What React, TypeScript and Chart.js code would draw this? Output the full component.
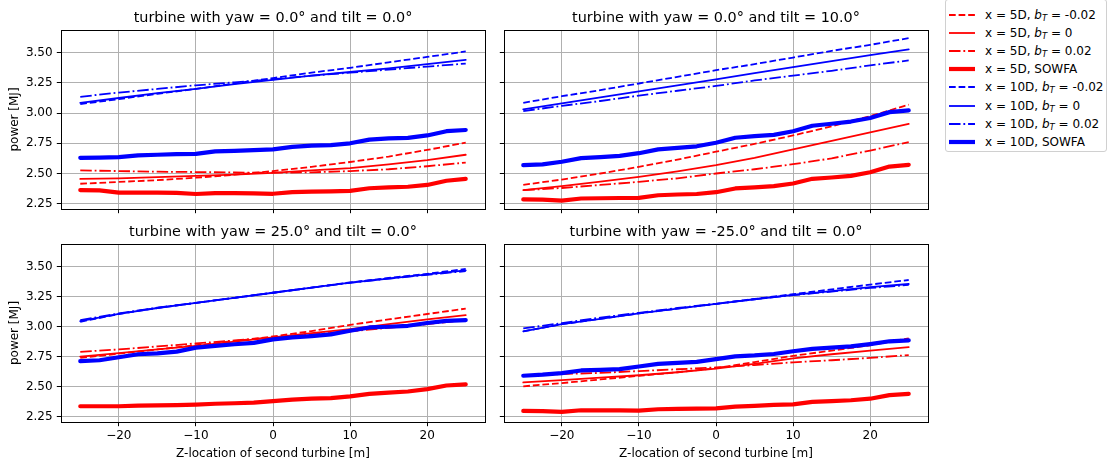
import React, { useEffect, useRef } from 'react';
import { Chart, registerables } from 'chart.js';

Chart.register(...registerables);

// Z-location of the second turbine [m]
const zModel = [-25, -20, -15, -10, -5, 0, 5, 10, 15, 20, 25];
const zSowfa = [-25, -22.5, -20, -17.5, -15, -12.5, -10, -7.5, -5, -2.5, 0, 2.5, 5, 7.5, 10, 12.5, 15, 17.5, 20, 22.5, 25];

const xTicks = [-20, -10, 0, 10, 20];
const yTicks = [2.25, 2.5, 2.75, 3.0, 3.25, 3.5];

// yaw = 0.0°, tilt = 0.0°
const p1_5d_neg = [2.415, 2.43, 2.445, 2.465, 2.49, 2.52, 2.555, 2.595, 2.64, 2.695, 2.755];
const p1_5d_zero = [2.455, 2.46, 2.47, 2.48, 2.49, 2.505, 2.525, 2.545, 2.575, 2.61, 2.655];
const p1_5d_pos = [2.525, 2.52, 2.515, 2.512, 2.508, 2.507, 2.51, 2.52, 2.535, 2.56, 2.59];
const p1_5d_sowfa = [2.363, 2.36, 2.342, 2.342, 2.342, 2.34, 2.33, 2.337, 2.337, 2.335, 2.332, 2.345, 2.35, 2.352, 2.356, 2.378, 2.385, 2.39, 2.405, 2.44, 2.455];
const p1_10d_neg = [3.075, 3.115, 3.16, 3.2, 3.245, 3.29, 3.335, 3.375, 3.42, 3.465, 3.51];
const p1_10d_zero = [3.085, 3.125, 3.165, 3.2, 3.24, 3.275, 3.31, 3.34, 3.37, 3.405, 3.44];
const p1_10d_pos = [3.135, 3.17, 3.2, 3.23, 3.255, 3.28, 3.31, 3.335, 3.36, 3.385, 3.41];
const p1_10d_sowfa = [2.63, 2.632, 2.635, 2.65, 2.655, 2.66, 2.663, 2.683, 2.688, 2.693, 2.7, 2.72, 2.73, 2.735, 2.75, 2.78, 2.79, 2.795, 2.815, 2.85, 2.86];

// yaw = 0.0°, tilt = 10.0°
const p2_5d_neg = [2.406, 2.45, 2.5, 2.555, 2.615, 2.68, 2.745, 2.815, 2.89, 2.975, 3.07];
const p2_5d_zero = [2.362, 2.395, 2.432, 2.472, 2.518, 2.569, 2.63, 2.7, 2.77, 2.84, 2.91];
const p2_5d_pos = [2.362, 2.38, 2.405, 2.431, 2.46, 2.5, 2.535, 2.577, 2.625, 2.69, 2.76];
const p2_5d_sowfa = [2.285, 2.283, 2.276, 2.293, 2.295, 2.297, 2.298, 2.32, 2.326, 2.33, 2.345, 2.376, 2.385, 2.395, 2.417, 2.456, 2.467, 2.48, 2.51, 2.557, 2.572];
const p2_10d_neg = [3.085, 3.14, 3.19, 3.245, 3.3, 3.355, 3.405, 3.46, 3.515, 3.565, 3.62];
const p2_10d_zero = [3.03, 3.08, 3.13, 3.18, 3.23, 3.28, 3.33, 3.38, 3.43, 3.48, 3.528];
const p2_10d_pos = [3.017, 3.06, 3.1, 3.145, 3.185, 3.225, 3.27, 3.31, 3.35, 3.395, 3.436];
const p2_10d_sowfa = [2.569, 2.575, 2.597, 2.627, 2.635, 2.646, 2.668, 2.7, 2.712, 2.725, 2.754, 2.796, 2.81, 2.82, 2.85, 2.895, 2.912, 2.93, 2.959, 3.008, 3.022];

// yaw = 25.0°, tilt = 0.0°
const p3_5d_neg = [2.74, 2.775, 2.81, 2.845, 2.88, 2.918, 2.963, 3.015, 3.06, 3.105, 3.15];
const p3_5d_zero = [2.75, 2.78, 2.81, 2.84, 2.875, 2.91, 2.945, 2.98, 3.02, 3.06, 3.095];
const p3_5d_pos = [2.79, 2.81, 2.835, 2.86, 2.885, 2.91, 2.935, 2.96, 2.99, 3.02, 3.055];
const p3_5d_sowfa = [2.337, 2.337, 2.337, 2.343, 2.345, 2.347, 2.351, 2.358, 2.362, 2.368, 2.379, 2.393, 2.4, 2.405, 2.42, 2.44, 2.45, 2.46, 2.48, 2.51, 2.52];
const p3_10d_neg = [3.04, 3.105, 3.155, 3.197, 3.24, 3.282, 3.325, 3.368, 3.405, 3.44, 3.48];
const p3_10d_zero = [3.045, 3.107, 3.155, 3.197, 3.24, 3.282, 3.325, 3.366, 3.4, 3.435, 3.468];
const p3_10d_pos = [3.055, 3.11, 3.158, 3.198, 3.24, 3.282, 3.324, 3.365, 3.4, 3.432, 3.462];
const p3_10d_sowfa = [2.712, 2.72, 2.745, 2.77, 2.778, 2.792, 2.825, 2.84, 2.853, 2.865, 2.894, 2.91, 2.921, 2.935, 2.966, 2.993, 2.999, 3.007, 3.03, 3.048, 3.054];

// yaw = -25.0°, tilt = 0.0°
const p4_5d_neg = [2.503, 2.53, 2.56, 2.59, 2.62, 2.655, 2.705, 2.757, 2.8, 2.845, 2.903];
const p4_5d_zero = [2.536, 2.555, 2.575, 2.595, 2.62, 2.65, 2.69, 2.736, 2.77, 2.8, 2.83];
const p4_5d_pos = [2.595, 2.605, 2.615, 2.63, 2.645, 2.66, 2.68, 2.703, 2.72, 2.74, 2.763];
const p4_5d_sowfa = [2.298, 2.296, 2.29, 2.304, 2.303, 2.302, 2.301, 2.312, 2.315, 2.318, 2.32, 2.334, 2.34, 2.348, 2.353, 2.373, 2.38, 2.387, 2.4, 2.43, 2.44];
const p4_10d_neg = [2.96, 3.02, 3.065, 3.11, 3.15, 3.19, 3.23, 3.27, 3.31, 3.35, 3.388];
const p4_10d_zero = [2.96, 3.02, 3.065, 3.11, 3.15, 3.19, 3.228, 3.265, 3.295, 3.328, 3.355];
const p4_10d_pos = [2.985, 3.03, 3.075, 3.115, 3.155, 3.19, 3.228, 3.262, 3.292, 3.322, 3.347];
const p4_10d_sowfa = [2.591, 2.6, 2.613, 2.635, 2.64, 2.646, 2.668, 2.69, 2.698, 2.707, 2.73, 2.752, 2.76, 2.772, 2.795, 2.815, 2.825, 2.835, 2.855, 2.878, 2.885];

const FONT = "'DejaVu Sans', 'Liberation Sans', sans-serif";
const RED = '#ff0000';
const BLUE = '#0000ff';
const DASHED = [6.7, 2.9];
const DASHDOT = [11.5, 2.9, 1.8, 2.9];
const THIN = 1.8;
const THICK = 4.2;

type SeriesStyle = { label: string; color: string; dash: number[]; width: number; sowfa: boolean };

const seriesStyles: SeriesStyle[] = [
  { label: 'x = 5D, b_T = -0.02', color: RED, dash: DASHED, width: THIN, sowfa: false },
  { label: 'x = 5D, b_T = 0', color: RED, dash: [], width: THIN, sowfa: false },
  { label: 'x = 5D, b_T = 0.02', color: RED, dash: DASHDOT, width: THIN, sowfa: false },
  { label: 'x = 5D, SOWFA', color: RED, dash: [], width: THICK, sowfa: true },
  { label: 'x = 10D, b_T = -0.02', color: BLUE, dash: DASHED, width: THIN, sowfa: false },
  { label: 'x = 10D, b_T = 0', color: BLUE, dash: [], width: THIN, sowfa: false },
  { label: 'x = 10D, b_T = 0.02', color: BLUE, dash: DASHDOT, width: THIN, sowfa: false },
  { label: 'x = 10D, SOWFA', color: BLUE, dash: [], width: THICK, sowfa: true },
];

type Panel = {
  title: string;
  series: number[][];
  left: number;
  top: number;
  width: number;
  height: number;
  yAxisWidth: number;
  xAxisHeight: number;
  padRight: number;
  titlePad: { top: number; bottom: number };
  showY: boolean;
  showX: boolean;
};

const panels: Panel[] = [
  {
    title: 'turbine with yaw = 0.0° and tilt = 0.0°',
    series: [p1_5d_neg, p1_5d_zero, p1_5d_pos, p1_5d_sowfa, p1_10d_neg, p1_10d_zero, p1_10d_pos, p1_10d_sowfa],
    left: 0, top: 0, width: 490, height: 222,
    yAxisWidth: 61, xAxisHeight: 13, padRight: 5,
    titlePad: { top: 9.2, bottom: 3.5 }, showY: true, showX: false,
  },
  {
    title: 'turbine with yaw = 0.0° and tilt = 10.0°',
    series: [p2_5d_neg, p2_5d_zero, p2_5d_pos, p2_5d_sowfa, p2_10d_neg, p2_10d_zero, p2_10d_pos, p2_10d_sowfa],
    left: 490, top: 0, width: 443, height: 222,
    yAxisWidth: 14, xAxisHeight: 13, padRight: 5,
    titlePad: { top: 9.2, bottom: 3.5 }, showY: false, showX: false,
  },
  {
    title: 'turbine with yaw = 25.0° and tilt = 0.0°',
    series: [p3_5d_neg, p3_5d_zero, p3_5d_pos, p3_5d_sowfa, p3_10d_neg, p3_10d_zero, p3_10d_pos, p3_10d_sowfa],
    left: 0, top: 222, width: 490, height: 241,
    yAxisWidth: 61, xAxisHeight: 41, padRight: 5,
    titlePad: { top: 2.1, bottom: 2.6 }, showY: true, showX: true,
  },
  {
    title: 'turbine with yaw = -25.0° and tilt = 0.0°',
    series: [p4_5d_neg, p4_5d_zero, p4_5d_pos, p4_5d_sowfa, p4_10d_neg, p4_10d_zero, p4_10d_pos, p4_10d_sowfa],
    left: 490, top: 222, width: 443, height: 241,
    yAxisWidth: 14, xAxisHeight: 41, padRight: 5,
    titlePad: { top: 2.1, bottom: 2.6 }, showY: false, showX: true,
  },
];

const fmtX = (v: number) => (v < 0 ? '\u2212' + Math.abs(v) : String(v));

// Axes frame (all four spines) drawn on top of the data
const framePlugin = {
  id: 'axesFrame',
  afterDatasetsDraw(chart: any) {
    const { ctx, chartArea } = chart;
    ctx.save();
    ctx.strokeStyle = '#000';
    ctx.lineWidth = 1;
    ctx.strokeRect(
      Math.round(chartArea.left) + 0.5,
      Math.round(chartArea.top) + 0.5,
      Math.round(chartArea.right) - Math.round(chartArea.left),
      Math.round(chartArea.bottom) - Math.round(chartArea.top)
    );
    ctx.restore();
  },
};

function PanelChart({ panel }: { panel: Panel }) {
  const ref = useRef<HTMLCanvasElement | null>(null);

  useEffect(() => {
    if (!ref.current) return;
    const datasets = seriesStyles.map((s, i) => {
      const xs = s.sowfa ? zSowfa : zModel;
      return {
        label: s.label,
        data: panel.series[i].map((y, k) => ({ x: xs[k], y })),
        borderColor: s.color,
        backgroundColor: s.color,
        borderWidth: s.width,
        borderDash: s.dash,
        borderCapStyle: s.dash.length ? 'butt' : 'round',
        borderJoinStyle: 'round',
        pointRadius: 0,
        tension: 0,
        fill: false,
        order: seriesStyles.length - i,
      };
    });

    const tickFont = { family: FONT, size: 12 };
    const chart = new Chart(ref.current, {
      type: 'line',
      data: { datasets: datasets as any },
      plugins: [framePlugin],
      options: {
        responsive: false,
        animation: false,
        events: [],
        layout: { padding: { left: 0, right: panel.padRight, top: 0, bottom: 0 } },
        plugins: {
          legend: { display: false },
          tooltip: { enabled: false },
          title: {
            display: true,
            text: panel.title,
            fullSize: false,
            color: '#000',
            font: { family: FONT, size: 14.4, weight: 'normal' as any },
            padding: panel.titlePad,
          },
        },
        scales: {
          x: {
            type: 'linear',
            min: -27.5,
            max: 27.5,
            afterBuildTicks: (s: any) => {
              s.ticks = xTicks.map((v) => ({ value: v }));
            },
            afterFit: (s: any) => {
              s.height = panel.xAxisHeight;
            },
            border: { display: false },
            grid: {
              color: '#b0b0b0',
              lineWidth: 1,
              drawTicks: true,
              tickLength: 4.2,
              tickColor: '#000',
              tickWidth: 1,
            },
            ticks: {
              display: panel.showX,
              color: '#000',
              font: tickFont,
              padding: 2.6,
              maxRotation: 0,
              autoSkip: false,
              callback: (v: any) => fmtX(Number(v)),
            },
            title: {
              display: panel.showX,
              text: 'Z-location of second turbine [m]',
              color: '#000',
              font: tickFont,
              padding: { top: 0, bottom: 2.3 },
            },
          },
          y: {
            type: 'linear',
            min: 2.206,
            max: 3.688,
            afterBuildTicks: (s: any) => {
              s.ticks = yTicks.map((v) => ({ value: v }));
            },
            afterFit: (s: any) => {
              s.width = panel.yAxisWidth;
            },
            border: { display: false },
            grid: {
              color: '#b0b0b0',
              lineWidth: 1,
              drawTicks: true,
              tickLength: 4.2,
              tickColor: '#000',
              tickWidth: 1,
            },
            ticks: {
              display: panel.showY,
              color: '#000',
              font: tickFont,
              padding: 4.2,
              autoSkip: false,
              callback: (v: any) => Number(v).toFixed(2),
            },
            title: {
              display: panel.showY,
              text: 'power [MJ]',
              color: '#000',
              font: tickFont,
              padding: { top: 7.8, bottom: 0 },
            },
          },
        },
      } as any,
    });
    return () => chart.destroy();
  }, [panel]);

  return (
    <canvas
      ref={ref}
      width={panel.width}
      height={panel.height}
      style={{ position: 'absolute', left: panel.left, top: panel.top, width: panel.width, height: panel.height }}
    />
  );
}

function LegendLabel({ label }: { label: string }) {
  const idx = label.indexOf('b_T');
  if (idx < 0) return <span>{label}</span>;
  return (
    <span>
      {label.slice(0, idx)}
      <i>b</i>
      <sub style={{ fontSize: '8.5px', verticalAlign: '-2px' }}>
        <i>T</i>
      </sub>
      {label.slice(idx + 3)}
    </span>
  );
}

function Legend() {
  const rowStep = 18.1;
  const firstRow = 14;
  return (
    <div
      style={{
        position: 'absolute',
        left: 945,
        top: -1,
        width: 162,
        height: 153,
        border: '1px solid #d0d0d0',
        borderRadius: 3,
        background: 'rgba(255,255,255,0.8)',
        boxSizing: 'border-box',
        fontFamily: FONT,
        fontSize: '12px',
        color: '#000',
      }}
    >
      {seriesStyles.map((s, i) => {
        const cy = firstRow + rowStep * i + 1;
        return (
          <div key={s.label} style={{ position: 'absolute', left: 0, top: cy - 8, height: 16, width: 160 }}>
            <svg width={32} height={16} style={{ position: 'absolute', left: 3, top: 0 }}>
              <line
                x1={0}
                y1={8}
                x2={26}
                y2={8}
                stroke={s.color}
                strokeWidth={s.width}
                strokeDasharray={s.dash.length ? s.dash.join(' ') : undefined}
              />
            </svg>
            <div style={{ position: 'absolute', left: 39, top: 0, lineHeight: '16px', whiteSpace: 'nowrap' }}>
              <LegendLabel label={s.label} />
            </div>
          </div>
        );
      })}
    </div>
  );
}

export default function App() {
  return (
    <div style={{ position: 'absolute', left: 0, top: 0, width: 1108, height: 463, background: '#fff', overflow: 'hidden' }}>
      {panels.map((p) => (
        <PanelChart key={p.title} panel={p} />
      ))}
      <Legend />
    </div>
  );
}
